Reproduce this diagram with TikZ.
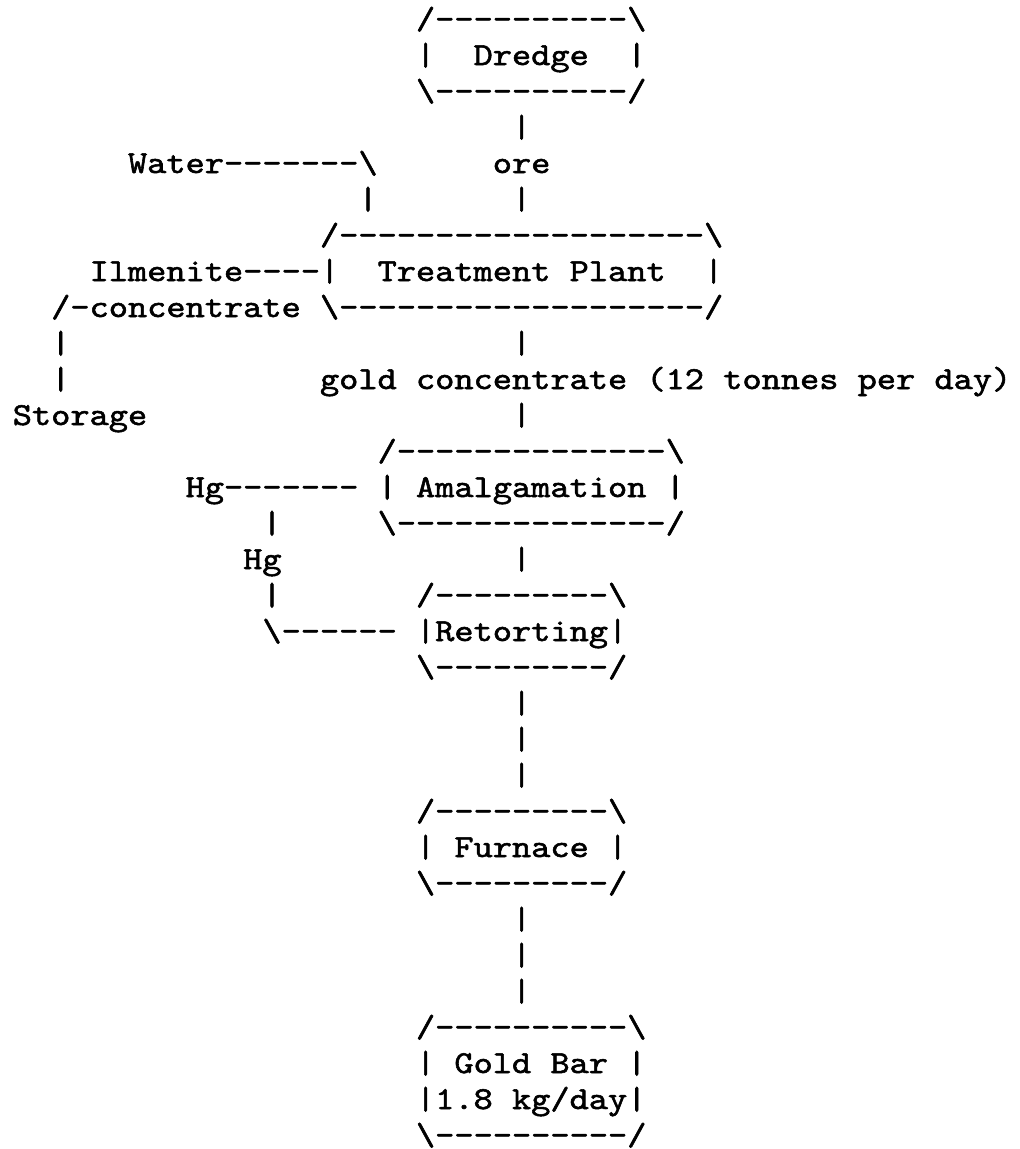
\documentclass[tikz,border=0pt]{standalone}
\usepackage{fontspec}
\usepackage{graphicx}
\newfontfamily\asciifam{lmmono10-regular}[Extension=.otf, FakeBold=1.6]
\newcommand\bs{\textbackslash}
\newcommand\dsh[1]{\foreach\k in {1,...,#1}{-\kern0pt}}
\newcommand\wide[1]{\scalebox{1.143}[1]{#1}}
\tikzset{
  ascii/.style={anchor=base west, inner sep=0pt, outer sep=0pt,
    font=\fontsize{32pt}{36pt}\selectfont\asciifam}
}
\newcommand\tx[4]{\node[ascii] (#1) at (#2,#3) {\wide{#4}};}
\begin{document}
\begin{tikzpicture}
\fill[white] (0pt,0pt) rectangle (1020pt,-1149pt);
\useasboundingbox (0pt,0pt) rectangle (1020pt,-1149pt);
\begin{scope}[shift={(320pt,-29pt)}, x=19.2pt, y=-36pt]
% Dredge
\tx{dredgeT}{5}{0}{/\dsh{10}\bs}
\tx{dredgeL}{5}{1}{|}
\tx{dredge}{8}{1}{Dredge}
\tx{dredgeR}{16}{1}{|}
\tx{dredgeB}{5}{2}{\bs\dsh{10}/}
\tx{oreA}{10}{3}{|}
\tx{water}{-10}{4}{Water\dsh{7}\bs}
\tx{ore}{9}{4}{ore}
\tx{waterB}{2}{5}{|}
\tx{oreB}{10}{5}{|}
% Treatment plant
\tx{plantT}{0}{6}{/\dsh{19}\bs}
\tx{ilmenite}{-12}{7}{Ilmenite\dsh{4}|}
\tx{plant}{3}{7}{Treatment Plant}
\tx{plantR}{20}{7}{|}
\tx{conc}{-14}{8}{/-concentrate}
\tx{plantB}{0}{8}{\bs\dsh{19}/}
\tx{storA}{-14}{9}{|}
\tx{goldA}{10}{9}{|}
\tx{storB}{-14}{10}{|}
\tx{goldconc}{0}{10}{gold concentrate (12 tonnes per day)}
\tx{storage}{-16}{11}{Storage}
\tx{goldB}{10}{11}{|}
% Amalgamation
\tx{amalT}{3}{12}{/\dsh{14}\bs}
\tx{hgA}{-7}{13}{Hg\dsh{7}}
\tx{amalL}{3}{13}{|}
\tx{amal}{5}{13}{Amalgamation}
\tx{amalR}{18}{13}{|}
\tx{hgB}{-3}{14}{|}
\tx{amalB}{3}{14}{\bs\dsh{14}/}
\tx{hgC}{-4}{15}{Hg}
\tx{amalC}{10}{15}{|}
\tx{hgD}{-3}{16}{|}
% Retorting
\tx{retT}{5}{16}{/\dsh{9}\bs}
\tx{hgE}{-3}{17}{\bs\dsh{6}}
\tx{ret}{5}{17}{|Retorting|}
\tx{retB}{5}{18}{\bs\dsh{9}/}
\tx{retA}{10}{19}{|}
\tx{retC}{10}{20}{|}
\tx{retD}{10}{21}{|}
% Furnace
\tx{furT}{5}{22}{/\dsh{9}\bs}
\tx{furL}{5}{23}{|}
\tx{fur}{7}{23}{Furnace}
\tx{furR}{15}{23}{|}
\tx{furB}{5}{24}{\bs\dsh{9}/}
\tx{furA}{10}{25}{|}
\tx{furC}{10}{26}{|}
\tx{furD}{10}{27}{|}
% Gold bar
\tx{barT}{5}{28}{/\dsh{10}\bs}
\tx{barL}{5}{29}{|}
\tx{bar}{7}{29}{Gold Bar}
\tx{barR}{16}{29}{|}
\tx{rate}{5}{30}{|1.8 kg/day|}
\tx{barB}{5}{31}{\bs\dsh{10}/}
\end{scope}
\end{tikzpicture}
\end{document}
